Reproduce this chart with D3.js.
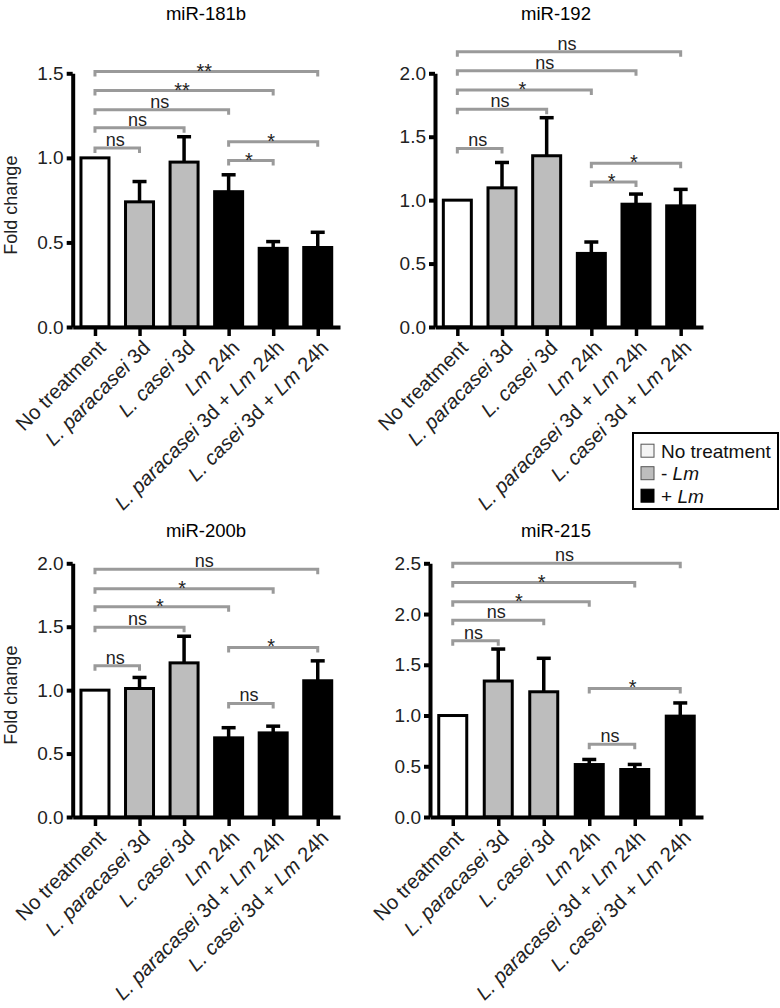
<!DOCTYPE html>
<html>
<head>
<meta charset="utf-8">
<script src="https://cdn.jsdelivr.net/npm/d3@7/dist/d3.min.js"></script>
<style>
  html, body { margin: 0; padding: 0; background: #fff; }
  svg { display: block; font-family: "Liberation Sans", Arial, sans-serif; }
</style>
</head>
<body>
<svg id="chart" width="780" height="1008"></svg>
<script>
// ---------------- DATA ----------------
const categories = ["No treatment", "L. paracasei 3d", "L. casei 3d", "Lm 24h",
                    "L. paracasei 3d + Lm 24h", "L. casei 3d + Lm 24h"];
// label pieces: [text, italic?]
const categoryLabelParts = [
  [["No treatment", false]],
  [["L. paracasei", true], [" 3d", false]],
  [["L. casei", true], [" 3d", false]],
  [["Lm", true], [" 24h", false]],
  [["L. paracasei", true], [" 3d + ", false], ["Lm", true], [" 24h", false]],
  [["L. casei", true], [" 3d + ", false], ["Lm", true], [" 24h", false]]
];
const categoryGroup = ["none", "minus", "minus", "plus", "plus", "plus"];

const panelTitles = ["miR-181b", "miR-192", "miR-200b", "miR-215"];

const mean181b = [1.00, 0.74, 0.975, 0.80, 0.465, 0.47];
const sem181b  = [0.00, 0.12, 0.15, 0.10, 0.04, 0.09];
const mean192  = [1.00, 1.097, 1.35, 0.58, 0.968, 0.955];
const sem192   = [0.00, 0.20, 0.30, 0.09, 0.08, 0.13];
const mean200b = [1.00, 1.013, 1.215, 0.624, 0.663, 1.074];
const sem200b  = [0.00, 0.087, 0.21, 0.08, 0.053, 0.157];
const mean215  = [1.00, 1.34, 1.234, 0.517, 0.468, 0.994];
const sem215   = [0.00, 0.315, 0.33, 0.05, 0.05, 0.13];

const yMax = [1.5, 2.0, 2.0, 2.5];
const yTicks181b = [0.0, 0.5, 1.0, 1.5];
const yTicks192  = [0.0, 0.5, 1.0, 1.5, 2.0];
const yTicks200b = [0.0, 0.5, 1.0, 1.5, 2.0];
const yTicks215  = [0.0, 0.5, 1.0, 1.5, 2.0, 2.5];

// significance brackets: [fromIndex, toIndex, level (fold change), label]
const sig181b = [[0,5,1.51,"**"],[0,4,1.398,"**"],[0,3,1.284,"ns"],[0,2,1.178,"ns"],[0,1,1.059,"ns"],[3,5,1.096,"*"],[3,4,0.984,"*"]];
const sig192  = [[0,5,2.17,"ns"],[0,4,2.02,"ns"],[0,3,1.868,"*"],[0,2,1.716,"ns"],[0,1,1.408,"ns"],[3,5,1.29,"*"],[3,4,1.144,"*"]];
const sig200b = [[0,5,1.953,"ns"],[0,4,1.80,"*"],[0,3,1.658,"*"],[0,2,1.495,"ns"],[0,1,1.192,"ns"],[3,5,1.337,"*"],[3,4,0.895,"ns"]];
const sig215  = [[0,5,2.50,"ns"],[0,4,2.31,"*"],[0,3,2.12,"*"],[0,2,1.94,"ns"],[0,1,1.737,"ns"],[3,5,1.267,"*"],[3,4,0.717,"ns"]];

const legendLabels = [[["No treatment", false]], [["- ", false], ["Lm", true]], [["+ ", false], ["Lm", true]]];
const legendGroups = ["none", "minus", "plus"];

// ---------------- LAYOUT / STYLE ----------------
const fills = { none: "#ffffff", minus: "#bdbdbd", plus: "#000000" };
const legendFills = { none: "#f4f4f4", minus: "#bdbdbd", plus: "#000000" };

const panels = [
  { title: panelTitles[0], mean: mean181b, sem: sem181b, ymax: yMax[0], ticks: yTicks181b, sig: sig181b,
    x0: 72.7, x1: 340, yTop: 73.3, yBot: 327, titleX: 206, titleY: 19.5, ylabel: true },
  { title: panelTitles[1], mean: mean192, sem: sem192, ymax: yMax[1], ticks: yTicks192, sig: sig192,
    x0: 435, x1: 703, yTop: 73.3, yBot: 327, titleX: 556, titleY: 19.5, ylabel: false },
  { title: panelTitles[2], mean: mean200b, sem: sem200b, ymax: yMax[2], ticks: yTicks200b, sig: sig200b,
    x0: 72.7, x1: 340, yTop: 563.3, yBot: 817, titleX: 206, titleY: 536.5, ylabel: true },
  { title: panelTitles[3], mean: mean215, sem: sem215, ymax: yMax[3], ticks: yTicks215, sig: sig215,
    x0: 430, x1: 703, yTop: 563.3, yBot: 817, titleX: 556, titleY: 536.5, ylabel: false }
];

const svg = d3.select("#chart");
const barW = 28;
const bracketColor = "#9a9a9a";

function addParts(sel, parts) {
  parts.forEach(([t, it]) => {
    sel.append("tspan").text(t).attr("font-style", it ? "italic" : "normal");
  });
}

panels.forEach(p => {
  const g = svg.append("g");
  const x = d3.scalePoint().domain(categories).range([p.x0, p.x1]).padding(0.5);
  const y = d3.scaleLinear().domain([0, p.ymax]).range([p.yBot, p.yTop]);

  // title
  g.append("text").attr("x", p.titleX).attr("y", p.titleY)
    .attr("text-anchor", "middle").attr("font-size", 18.5).attr("fill", "#000")
    .text(p.title);

  // y label
  if (p.ylabel) {
    g.append("text")
      .attr("transform", `translate(11,${(p.yTop + p.yBot) / 2 + 5}) rotate(-90)`)
      .attr("text-anchor", "middle").attr("dy", "0.35em")
      .attr("font-size", 18).attr("fill", "#222")
      .text("Fold change");
  }

  // bars
  const data = categories.map((c, i) => ({ c, i, m: p.mean[i], s: p.sem[i], grp: categoryGroup[i] }));
  g.selectAll("rect.bar").data(data).join("rect")
    .attr("class", "bar")
    .attr("x", d => x(d.c) - barW / 2)
    .attr("width", barW)
    .attr("y", d => y(d.m))
    .attr("height", d => y(0) - y(d.m))
    .attr("fill", d => fills[d.grp])
    .attr("stroke", "#000").attr("stroke-width", 3);

  // error bars (upper only)
  const eb = data.filter(d => d.s > 0);
  g.selectAll("line.err").data(eb).join("line")
    .attr("x1", d => x(d.c)).attr("x2", d => x(d.c))
    .attr("y1", d => y(d.m)).attr("y2", d => y(d.m + d.s))
    .attr("stroke", "#000").attr("stroke-width", 3.5);
  g.selectAll("line.cap").data(eb).join("line")
    .attr("x1", d => x(d.c) - 7).attr("x2", d => x(d.c) + 7)
    .attr("y1", d => y(d.m + d.s)).attr("y2", d => y(d.m + d.s))
    .attr("stroke", "#000").attr("stroke-width", 3.5);

  // y axis
  const ya = g.append("g").attr("transform", `translate(${p.x0},0)`)
    .call(d3.axisLeft(y).tickValues(p.ticks).tickFormat(d3.format(".1f")).tickSize(6).tickSizeOuter(0).tickPadding(3));
  ya.select(".domain").attr("stroke", "#000").attr("stroke-width", 4);
  ya.selectAll(".tick line").attr("stroke", "#000").attr("stroke-width", 4);
  ya.selectAll(".tick text").attr("font-size", 19).attr("fill", "#222")
    .attr("font-family", "'Liberation Sans', Arial, sans-serif");

  // x axis
  const xa = g.append("g").attr("transform", `translate(0,${p.yBot})`)
    .call(d3.axisBottom(x).tickSize(9).tickSizeOuter(0).tickFormat(""));
  xa.select(".domain").attr("stroke", "#000").attr("stroke-width", 4);
  xa.selectAll(".tick line").attr("stroke", "#000").attr("stroke-width", 3.5);

  // x labels (baseline end placed just right of / below each tick)
  const lbl = g.selectAll("text.xl").data(data).join("text")
    .attr("class", "xl")
    .attr("transform", d => `translate(${x(d.c) + 12},${p.yBot + 22}) rotate(-45)`)
    .attr("text-anchor", "end")
    .attr("font-size", 20.3).attr("fill", "#222");
  lbl.each(function(d) { addParts(d3.select(this), categoryLabelParts[d.i]); });

  // significance brackets
  const leg = 5;
  p.sig.forEach(([a, b, lvl, lab]) => {
    const xa1 = x(categories[a]), xb1 = x(categories[b]), yy = y(lvl);
    g.append("path")
      .attr("d", `M${xa1},${yy + leg}V${yy}H${xb1}V${yy + leg}`)
      .attr("fill", "none").attr("stroke", bracketColor).attr("stroke-width", 3);
    const isStar = lab.indexOf("*") >= 0;
    g.append("text")
      .attr("x", (xa1 + xb1) / 2 - 2)
      .attr("y", isStar ? yy + 6 : yy - 2)
      .attr("text-anchor", "middle")
      .attr("font-size", isStar ? 20 : 18).attr("fill", "#222")
      .text(lab);
  });
});

// legend
const lg = svg.append("g");
lg.append("rect").attr("x", 633).attr("y", 433).attr("width", 145).attr("height", 76)
  .attr("fill", "#fff").attr("stroke", "#000").attr("stroke-width", 2);
const rowY = d3.scalePoint().domain(legendGroups).range([450.7, 495.7]);
legendGroups.forEach((grp, i) => {
  lg.append("rect").attr("x", 641).attr("y", rowY(grp) - 6.5).attr("width", 13).attr("height", 13)
    .attr("fill", legendFills[grp]).attr("stroke", grp === "plus" ? "#000" : "#555").attr("stroke-width", 1);
  const t = lg.append("text").attr("x", 661).attr("y", rowY(grp)).attr("dy", "0.36em")
    .attr("font-size", 19).attr("fill", "#111");
  addParts(t, legendLabels[i]);
});
</script>
</body>
</html>
